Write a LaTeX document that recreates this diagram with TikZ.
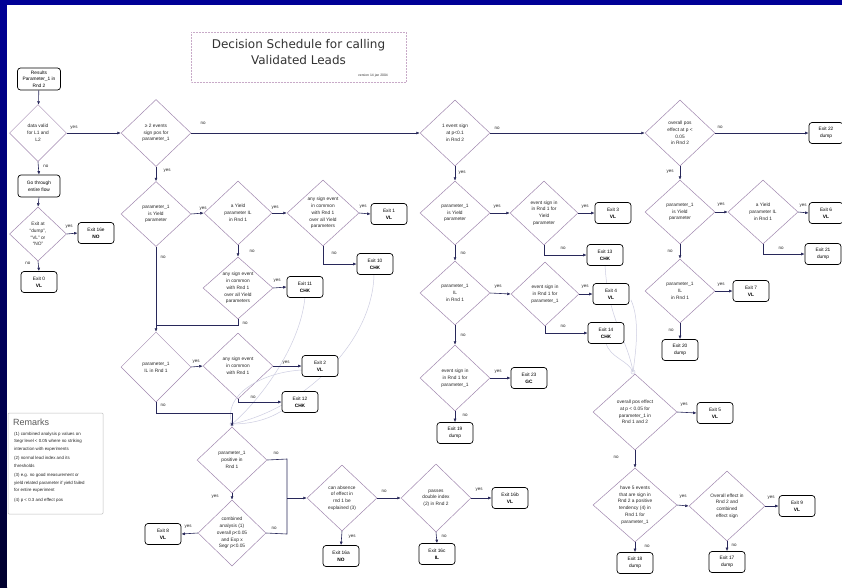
\documentclass[tikz,border=0pt]{standalone}
\usepackage{fontspec}
\setmainfont{Liberation Sans}
\newfontfamily\titlefont{DejaVu Sans}
\usetikzlibrary{shapes.geometric,arrows.meta}
\definecolor{navyc}{RGB}{0,0,150}
\definecolor{navyd}{RGB}{0,0,45}
\definecolor{linecol}{RGB}{40,40,90}
\definecolor{diacol}{RGB}{160,135,175}
\definecolor{faint}{RGB}{205,205,225}
\definecolor{tbox}{RGB}{200,170,200}
\tikzset{
  dia/.style={diamond, draw=diacol, line width=0.5pt, inner sep=0pt},
  dt/.style={font=\fontsize{4.8}{6.8}\selectfont, align=center, text=black!85, inner sep=0pt},
  ebox/.style={draw=black, rounded corners=3pt, line width=0.7pt, minimum width=36pt, minimum height=21pt, inner sep=0pt, align=center, font=\fontsize{4.8}{6.6}\selectfont, fill=white},
  conn/.style={draw=linecol, line width=0.6pt, -{Latex[length=3.5pt,width=3pt]}},
  plain/.style={draw=linecol, line width=0.6pt},
  lab/.style={font=\fontsize{4.5}{5}\selectfont, inner sep=0pt, text=black!85},
  fcurve/.style={draw=faint, line width=0.5pt}
}
\begin{document}
\begin{tikzpicture}[x=1pt,y=-1pt]
\useasboundingbox (0,0) rectangle (842,587);
\fill[navyc] (0,0) rectangle (842,587);
\shade[top color=navyc, bottom color=navyd] (0,0) rectangle (7,587);
\fill[white] (7,5) rectangle (842,587);

% title
\draw[tbox, line width=0.5pt, densely dotted] (191,32) rectangle (406,82);
\node[font=\titlefont\fontsize{12}{16}\selectfont, align=center, text=black!80] (title) at (298.5,52) {Decision Schedule for calling\\Validated Leads};
\node[font=\fontsize{3.4}{4}\selectfont, text=black!80, inner sep=0pt] (ver) at (373,76) {version 14 jan 2004};

% remarks
\draw[black!25, line width=0.5pt, rounded corners=1pt] (8,413) rectangle (103,514);
\node[anchor=west, font=\fontsize{9}{10}\selectfont, text=black!65, inner sep=0pt] (remt) at (13,422) {Remarks};
\node[anchor=north west, inner sep=0pt, font=\fontsize{4.4}{7.3}\selectfont, text=black!85, align=left] (remx) at (14,432)
{(1) combined analysis p values on\\Segr level < 0.05 where no striking\\interaction with experiments\\[2.4pt]
(2) normal lead index and its\\thresholds\\[2.4pt]
(3) e.g. no good measurement or\\yield related parameter if yield failed\\for entire experiment\\[2.4pt]
(4) p < 0.3 and effect pos};

% faint curves
\coordinate (j1) at (232,424);
\coordinate (j2) at (633,372);

% diamonds
\node[dia, minimum width=57pt, minimum height=57pt] (d1) at (38,133) {};
\node[dt] at (d1) {data valid\\for L1 and\\L2};
\node[dia, minimum width=70pt, minimum height=67pt] (d2) at (156,133) {};
\node[dt] at (d2) {≥ 2 events\\sign pos for\\parameter\_1};
\node[dia, minimum width=57pt, minimum height=54pt] (dx) at (38,234) {};
\node[dt] at (dx) {Exit at\\``dump'',\\``VL'' or\\``NO''};
\node[dia, minimum width=70pt, minimum height=65pt] (d4) at (156,214) {};
\node[dt] at (d4) {parameter\_1\\is Yield\\parameter};
\node[dia, minimum width=68pt, minimum height=64pt] (d5) at (238,213) {};
\node[dt] at (d5) {a Yield\\parameter IL\\in Rnd 1};
\node[dia, minimum width=72pt, minimum height=66pt] (d6) at (323,213) {};
\node[dt] at (d6) {any sign event\\in common\\with Rnd 1\\over all Yield\\parameters};
\node[dia, minimum width=70pt, minimum height=62pt] (d7) at (238,288) {};
\node[dt] at (d7) {any sign event\\in common\\with Rnd 1\\over all Yield\\parameters};
\node[dia, minimum width=70pt, minimum height=70pt] (d8) at (156,367) {};
\node[dt] at (d8) {parameter\_1\\IL in Rnd 1};
\node[dia, minimum width=70pt, minimum height=66pt] (d9) at (238,366) {};
\node[dt] at (d9) {any sign event\\in common\\with Rnd 1};
\node[dia, minimum width=70pt, minimum height=66pt] (d10) at (232,460) {};
\node[dt] at (d10) {parameter\_1\\positive in\\Rnd 1};
\node[dia, minimum width=68pt, minimum height=66pt] (d11) at (232,533) {};
\node[dt] at (d11) {combined\\analysis (1)\\overall p<0.05\\and Exp x\\Segr p<0.05};
\node[dia, minimum width=70pt, minimum height=66pt] (d12) at (342,498) {};
\node[dt] at (d12) {can absence\\of effect in\\rnd 1 be\\explained (3)};
\node[dia, minimum width=70pt, minimum height=68pt] (d13) at (436,498) {};
\node[dt] at (d13) {passes\\double index\\(2) in Rnd 2};
\node[dia, minimum width=70pt, minimum height=66pt] (d14) at (455,133) {};
\node[dt] at (d14) {1 event sign\\at p<0.1\\in Rnd 2};
\node[dia, minimum width=70pt, minimum height=64pt] (d15) at (455,213) {};
\node[dt] at (d15) {parameter\_1\\is Yield\\parameter};
\node[dia, minimum width=68pt, minimum height=64pt] (d16) at (544,213) {};
\node[dt] at (d16) {event sign in\\in Rnd 1 for\\Yield\\parameter};
\node[dia, minimum width=70pt, minimum height=64pt] (d17) at (455,293) {};
\node[dt] at (d17) {parameter\_1\\IL\\in Rnd 1};
\node[dia, minimum width=68pt, minimum height=64pt] (d19) at (545,294) {};
\node[dt] at (d19) {event sign in\\in Rnd 1 for\\parameter\_1};
\node[dia, minimum width=70pt, minimum height=66pt] (d20) at (455,378) {};
\node[dt] at (d20) {event sign in\\in Rnd 1 for\\parameter\_1};
\node[dia, minimum width=70pt, minimum height=66pt] (d18) at (680,133) {};
\node[dt] at (d18) {overall pos\\effect at p <\\0.05\\in Rnd 2};
\node[dia, minimum width=70pt, minimum height=64pt] (d21) at (680,212) {};
\node[dt] at (d21) {parameter\_1\\is Yield\\parameter};
\node[dia, minimum width=70pt, minimum height=64pt] (d22) at (763,212) {};
\node[dt] at (d22) {a Yield\\parameter IL\\in Rnd 1};
\node[dia, minimum width=70pt, minimum height=64pt] (d23) at (680,291) {};
\node[dt] at (d23) {parameter\_1\\IL\\in Rnd 1};
\node[dia, minimum width=84pt, minimum height=76pt] (d24) at (635,412) {};
\node[dt] at (d24) {overall pos effect\\at p < 0.05 for\\parameter\_1 in\\Rnd 1 and 2};
\node[dia, minimum width=84pt, minimum height=74pt] (d25) at (635,505) {};
\node[dt] at (d25) {have 5 events\\that are sign in\\Rnd 2 a positive\\tendency (4) in\\Rnd 1 for\\parameter\_1};
\node[dia, minimum width=76pt, minimum height=70pt] (d26) at (727,506) {};
\node[dt] at (d26) {Overall effect in\\Rnd 2  and\\combined\\effect sign};

% faint curves (drawn before boxes)
\draw[fcurve] (305,297) .. controls (300,350) and (255,405) .. (j1);
\draw[fcurve] (374,275) .. controls (372,345) and (300,410) .. (j1);
\draw[fcurve] (302,370) .. controls (262,372) and (222,395) .. (j1);
\draw[fcurve] (283,410) .. controls (268,420) and (250,424) .. (j1);
\draw[fcurve] (605,265) .. controls (608,320) and (628,340) .. (j2);
\draw[fcurve] (631,300) .. controls (640,320) and (636,350) .. (j2);
\draw[fcurve] (606,343) .. controls (610,358) and (628,360) .. (j2);
\draw[faint, line width=0.5pt] (j1) circle (2pt);
\draw[faint, line width=0.5pt] (j2) circle (2pt);

% boxes
\node[ebox, minimum width=43pt, minimum height=22pt] (start) at (39,79) {Results\\Parameter\_1 in\\Rnd 2};
\node[ebox, minimum width=42pt, minimum height=22pt] (go) at (39,186) {Go through\\entire flow};
\node[ebox] (e16e) at (96,233) {Exit 16e\\\textbf{NO}};
\node[ebox] (e0) at (39,282) {Exit 0\\\textbf{VL}};
\node[ebox] (e1) at (389,214) {Exit 1\\\textbf{VL}};
\node[ebox] (e10) at (375,264) {Exit 10\\\textbf{CHK}};
\node[ebox] (e11) at (305,287) {Exit 11\\\textbf{CHK}};
\node[ebox] (e2) at (320,366) {Exit 2\\\textbf{VL}};
\node[ebox] (e12) at (300,402) {Exit 12\\\textbf{CHK}};
\node[ebox] (e8) at (163,534) {Exit 8\\\textbf{VL}};
\node[ebox] (e16a) at (341,556) {Exit 16a\\\textbf{NO}};
\node[ebox] (e16b) at (510,498) {Exit 16b\\\textbf{VL}};
\node[ebox] (e16c) at (437,554) {Exit 16c\\\textbf{IL}};
\node[ebox] (e3) at (613,213) {Exit 3\\\textbf{VL}};
\node[ebox] (e13) at (605,255) {Exit 13\\\textbf{CHK}};
\node[ebox] (e4) at (611,294) {Exit 4\\\textbf{VL}};
\node[ebox] (e14) at (606,333) {Exit 14\\\textbf{CHK}};
\node[ebox] (e23) at (529,378) {Exit 23\\\textbf{GC}};
\node[ebox] (e19) at (455,433) {Exit 19\\dump};
\node[ebox, minimum width=34pt] (e22) at (826,133) {Exit 22\\dump};
\node[ebox, minimum width=34pt] (e6) at (826,213) {Exit 6\\\textbf{VL}};
\node[ebox] (e21) at (823,254) {Exit 21\\dump};
\node[ebox] (e7) at (751,291) {Exit 7\\\textbf{VL}};
\node[ebox] (e20) at (680,350) {Exit 20\\dump};
\node[ebox] (e5) at (715,413) {Exit 5\\\textbf{VL}};
\node[ebox] (e9) at (797,506) {Exit 9\\\textbf{VL}};
\node[ebox] (e17) at (727,562) {Exit 17\\dump};
\node[ebox] (e18) at (635,563) {Exit 18\\dump};

% connectors
\draw[conn] (start) -- (d1);
\draw[conn] (d1.east) -- (d2.west);
\draw[conn] (d1.south) -- (go.north);
\draw[conn] (go.south) -- (dx.north);
\draw[conn] (dx.east) -- (e16e.west);
\draw[conn] (dx.south) -- (e0.north);
\draw[conn] (d2.east) -- (d14.west);
\draw[conn] (d2.south) -- (d4.north);
\draw[conn] (d4.east) -- (d5.west);
\draw[conn] (d5.east) -- (d6.west);
\draw[conn] (d6.east) -- (e1.west);
\draw[conn] (d6.south) |- (e10.west);
\draw[conn] (d5.south) -- (d7.north);
\draw[conn] (d7.east) -- (e11.west);
\coordinate (k1) at (156,325);
\draw[plain] (d7.south) |- (k1);
\draw[conn] (d4.south) -- (d8.north);
\draw[conn] (d8.east) -- (d9.west);
\draw[conn] (d9.east) -- (e2.west);
\draw[conn] (d9.south) |- (e12.west);
\coordinate (k2) at (156,413);
\coordinate (k3) at (232,413);
\draw[conn] (d8.south) -- (k2) -- (k3) -- (d10.north);
\draw[conn] (d10.south) -- (d11.north);
\coordinate (k4) at (287,459);
\coordinate (k5) at (287,534);
\coordinate (k6) at (287,498);
\draw[plain] (d10.east) -- (k4) -- (k5) -- (d11.east);
\draw[conn] (k6) -- (d12.west);
\draw[conn] (d11.west) -- (e8.east);
\draw[conn] (d12.south) -- (e16a.north);
\draw[conn] (d12.east) -- (d13.west);
\draw[conn] (d13.east) -- (e16b.west);
\draw[conn] (d13.south) -- (e16c.north);
\draw[conn] (d14.south) -- (d15.north);
\draw[conn] (d14.east) -- (d18.west);
\draw[conn] (d15.east) -- (d16.west);
\draw[conn] (d16.east) -- (e3.west);
\draw[conn] (d16.south) |- (e13.west);
\draw[conn] (d15.south) -- (d17.north);
\draw[conn] (d17.east) -- (d19.west);
\draw[conn] (d19.east) -- (e4.west);
\draw[conn] (d19.south) |- (e14.west);
\draw[conn] (d17.south) -- (d20.north);
\draw[conn] (d20.east) -- (e23.west);
\draw[conn] (d20.south) -- (e19.north);
\draw[conn] (d18.east) -- (e22.west);
\draw[conn] (d18.south) -- (d21.north);
\draw[conn] (d21.east) -- (d22.west);
\draw[conn] (d22.east) -- (e6.west);
\draw[conn] (d22.south) |- (e21.west);
\draw[conn] (d21.south) -- (d23.north);
\draw[conn] (d23.east) -- (e7.west);
\draw[conn] (d23.south) -- (e20.north);
\draw[conn] (d24.east) -- (e5.west);
\draw[conn] (d24.south) -- (d25.north);
\draw[conn] (d25.east) -- (d26.west);
\draw[conn] (d26.east) -- (e9.west);
\draw[conn] (d26.south) -- (e17.north);
\draw[conn] (d25.south) -- (e18.north);

% labels
\node[lab] (l1) at (74,128) {yes};
\node[lab] (l2) at (46,166) {no};
\node[lab] (l3) at (69,227) {yes};
\node[lab] (l4) at (28,263) {no};
\node[lab] (l5) at (203,123) {no};
\node[lab] (l6) at (167,171) {yes};
\node[lab] (l7) at (203,209) {yes};
\node[lab] (l8) at (275,208) {yes};
\node[lab] (l9) at (363,207) {yes};
\node[lab] (l10) at (334,253) {no};
\node[lab] (l11) at (252,251) {no};
\node[lab] (l12) at (277,281) {yes};
\node[lab] (l13) at (245,323) {no};
\node[lab] (l14) at (163,257) {no};
\node[lab] (l15) at (196,362) {yes};
\node[lab] (l16) at (286,363) {yes};
\node[lab] (l17) at (253,397) {no};
\node[lab] (l18) at (163,405) {no};
\node[lab] (l19) at (276,453) {no};
\node[lab] (l20) at (274,528) {no};
\node[lab] (l21) at (215,497) {yes};
\node[lab] (l22) at (188,527) {yes};
\node[lab] (l23) at (352,537) {yes};
\node[lab] (l24) at (384,491) {no};
\node[lab] (l25) at (479,490) {yes};
\node[lab] (l26) at (444,536) {no};
\node[lab] (l27) at (462,173) {yes};
\node[lab] (l28) at (497,128) {no};
\node[lab] (l29) at (497,207) {yes};
\node[lab] (l30) at (585,207) {yes};
\node[lab] (l31) at (563,248) {no};
\node[lab] (l32) at (463,253) {no};
\node[lab] (l33) at (498,287) {yes};
\node[lab] (l34) at (585,287) {yes};
\node[lab] (l35) at (563,326) {no};
\node[lab] (l36) at (463,335) {no};
\node[lab] (l37) at (498,372) {yes};
\node[lab] (l38) at (465,415) {no};
\node[lab] (l39) at (720,127) {no};
\node[lab] (l40) at (670,172) {yes};
\node[lab] (l41) at (721,205) {yes};
\node[lab] (l42) at (803,206) {yes};
\node[lab] (l43) at (781,248) {no};
\node[lab] (l44) at (670,251) {no};
\node[lab] (l45) at (721,285) {yes};
\node[lab] (l46) at (671,330) {no};
\node[lab] (l47) at (684,405) {yes};
\node[lab] (l48) at (616,457) {no};
\node[lab] (l49) at (683,497) {yes};
\node[lab] (l50) at (771,498) {yes};
\node[lab] (l51) at (734,545) {no};
\node[lab] (l52) at (647,546) {no};
\end{tikzpicture}
\end{document}
